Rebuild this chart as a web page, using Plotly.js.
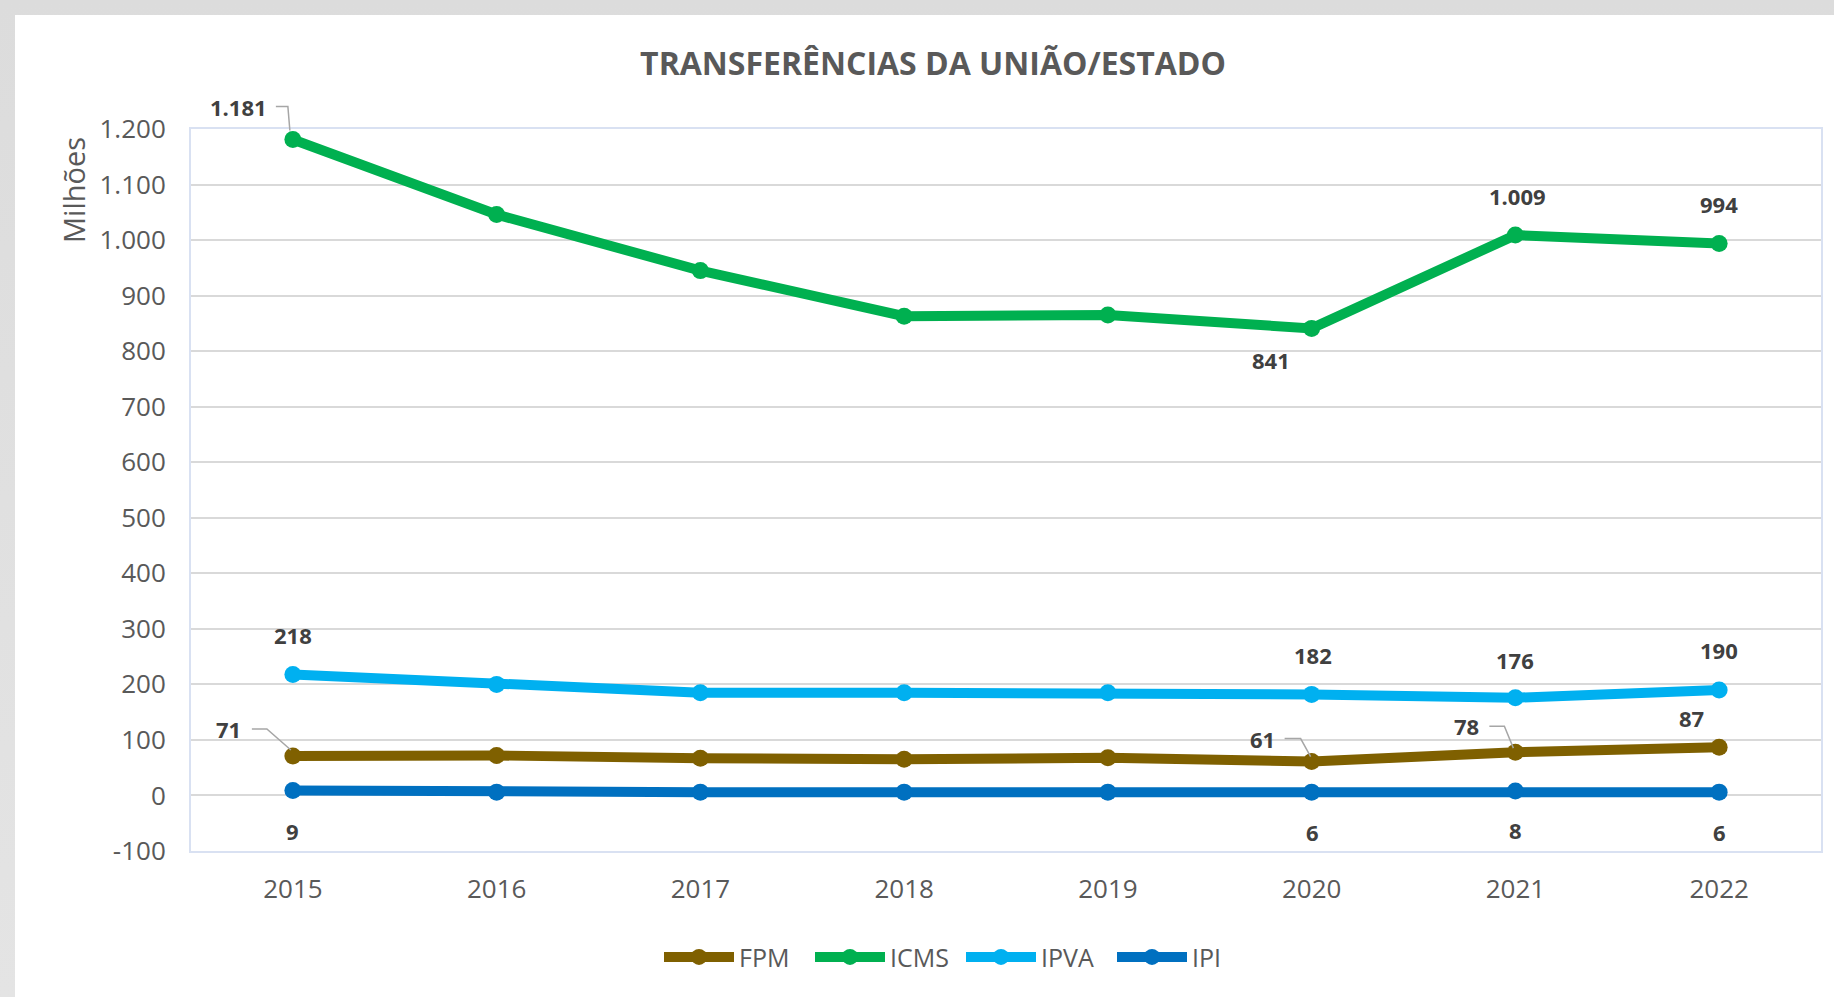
<!DOCTYPE html>
<html>
<head>
<meta charset="utf-8">
<script src="https://cdn.plot.ly/plotly-3.0.1.min.js"></script>
<style>
  html, body { margin: 0; padding: 0; width: 1834px; height: 997px; overflow: hidden;
    background: linear-gradient(#dcdcdc, #e4e4e4); }
  #chart { position: absolute; left: 15px; top: 15px; width: 1819px; height: 982px; background: #fff; }
</style>
</head>
<body>
<div id="chart"></div>
<script>
const years = ['2015', '2016', '2017', '2018', '2019', '2020', '2021', '2022'];
const fpm  = [71, 72, 67, 65, 68, 61, 78, 87];
const icms = [1181, 1046, 945, 863, 865, 841, 1009, 994];
const ipva = [218, 200, 185, 185, 185, 182, 176, 190];
const ipi  = [9, 6, 6, 6, 6, 6, 8, 6];

const seriesNames = ['FPM', 'ICMS', 'IPVA', 'IPI'];
const yTickVals = [-100, 0, 100, 200, 300, 400, 500, 600, 700, 800, 900, 1000, 1100, 1200];
const yTickText = ['-100', '0', '100', '200', '300', '400', '500', '600', '700', '800', '900', '1.000', '1.100', '1.200'];
const yMin = -100, yMax = 1200;

// which points carry a data label (indices into years)
const fpmLabelIdx  = [0, 5, 6, 7];
const icmsLabelIdx = [0, 5, 6, 7];
const ipvaLabelIdx = [0, 5, 6, 7];
const ipiLabelIdx  = [0, 5, 6, 7];

const colors = { FPM: '#7F6000', ICMS: '#00B050', IPVA: '#00B0F0', IPI: '#0070C0' };
const values = { FPM: fpm, ICMS: icms, IPVA: ipva, IPI: ipi };

const FONT = 'Open Sans, Noto Sans, sans-serif';

const traces = seriesNames.map(name => ({
  type: 'scatter',
  mode: 'lines+markers',
  name: name,
  x: years,
  y: values[name],
  line: { color: colors[name], width: 10 },
  marker: { color: colors[name], size: 17 },
  hoverinfo: 'x+y+name'
}));

function fmt(v) {
  return v.toString().replace(/\B(?=(\d{3})+(?!\d))/g, '.');
}

// label offsets (pixels); leader = elbow path in pixels relative to the point (y up)
const labelStyle = {
  FPM:  [{ax: -64, ay: -27, leader: 'M -41 27 L -26 27 L -2 6'},
         {ax: -49, ay: -23, leader: 'M -27 23 L -11 23 L -1 5'},
         {ax: -49, ay: -26, leader: 'M -26 26 L -11 26 L -2 4'},
         {ax: -28, ay: -29}],
  ICMS: [{ax: -54, ay: -33, leader: 'M -17 33 L -5 33 L -3 9'},
         {ax: -41, ay: 32}, {ax: 2, ay: -39}, {ax: 0, ay: -39}],
  IPVA: [{ax: 0, ay: -39}, {ax: 1, ay: -39}, {ax: 0, ay: -38}, {ax: 0, ay: -40}],
  IPI:  [{ax: 0, ay: 41}, {ax: 1, ay: 40}, {ax: 0, ay: 39}, {ax: 0, ay: 40}]
};
const labelIdx = { FPM: fpmLabelIdx, ICMS: icmsLabelIdx, IPVA: ipvaLabelIdx, IPI: ipiLabelIdx };

const annotations = [];
const shapes = [];
seriesNames.forEach(name => {
  labelIdx[name].forEach((i, k) => {
    const st = labelStyle[name][k];
    annotations.push({
      x: i, y: values[name][i], xref: 'x', yref: 'y',
      text: '<b>' + fmt(values[name][i]) + '</b>',
      showarrow: true,
      arrowhead: 0, arrowwidth: 1,
      arrowcolor: 'rgba(255,255,255,0)',
      ax: st.ax, ay: st.ay,
      font: { family: FONT, size: 22, color: '#404040' }
    });
    if (st.leader) {
      // paper-referenced anchor (so the leader is not clipped at the plot edge)
      shapes.push({
        type: 'path', xref: 'paper', yref: 'paper',
        xsizemode: 'pixel', ysizemode: 'pixel',
        xanchor: (i + 0.5) / years.length,
        yanchor: (values[name][i] - yMin) / (yMax - yMin),
        path: st.leader,
        line: { color: '#A6A6A6', width: 1.5 },
        layer: 'above'
      });
    }
  });
});

annotations.push({
  xref: 'paper', yref: 'paper', x: 0, y: 1,
  xshift: -118, yshift: -61,
  xanchor: 'center', yanchor: 'middle',
  text: 'Milhões', textangle: -90, showarrow: false,
  font: { family: FONT, size: 29, color: '#595959' }
});

const layout = {
  width: 1819, height: 982,
  paper_bgcolor: '#ffffff', plot_bgcolor: '#ffffff',
  margin: { l: 176, r: 13, t: 114, b: 146 },
  title: {
    text: '<b>TRANSFERÊNCIAS DA UNIÃO/ESTADO</b>',
    xref: 'container', yref: 'container',
    x: 0.5047, y: 0.95, xanchor: 'center', yanchor: 'middle',
    font: { family: FONT, size: 32, color: '#595959' }
  },
  xaxis: {
    type: 'category',
    range: [-0.5, 7.5],
    showgrid: false,
    showline: true, mirror: true, linecolor: '#D9E1F2', linewidth: 2,
    ticks: '', ticklabelstandoff: 14,
    tickfont: { family: FONT, size: 26, color: '#595959' },
    fixedrange: true
  },
  yaxis: {
    range: [yMin, yMax],
    tickmode: 'array', tickvals: yTickVals, ticktext: yTickText,
    showgrid: true, gridcolor: '#D9D9D9', gridwidth: 2,
    zeroline: false,
    showline: true, mirror: true, linecolor: '#D9E1F2', linewidth: 2,
    ticks: '', ticklabelstandoff: 18,
    tickfont: { family: FONT, size: 26, color: '#595959' },
    fixedrange: true
  },
  legend: {
    orientation: 'h',
    x: 0, xanchor: 'left', xref: 'paper',
    y: -0.147, yanchor: 'middle',
    font: { family: FONT, size: 25, color: '#595959' },
    itemwidth: 70,
    entrywidth: 66,
    bgcolor: 'rgba(0,0,0,0)'
  },
  showlegend: true,
  annotations: annotations,
  shapes: shapes,
  hovermode: 'closest'
};

Plotly.newPlot('chart', traces, layout, { displayModeBar: false }).then(gd => {
  // place the legend so that its first symbol starts where the reference's does
  const lg = gd.querySelector('.legend');
  const plotLeft = gd._fullLayout._size.l;
  const targetLeft = 664 - 15; // div px of first legend symbol
  const tr = lg.getAttribute('transform');
  const m = /translate\(([-\d.]+)[ ,]+([-\d.]+)\)/.exec(tr);
  if (m) {
    const curX = parseFloat(m[1]);
    const first = lg.querySelector('.legendlines path, .legendsymbols path');
    let symLeft = curX;
    if (first) {
      const r = first.getBoundingClientRect();
      symLeft = r.left - 15;
    }
    Plotly.relayout(gd, { 'legend.x': (curX + (targetLeft - symLeft) - plotLeft) / gd._fullLayout._size.w });
  }
});
</script>
</body>
</html>
